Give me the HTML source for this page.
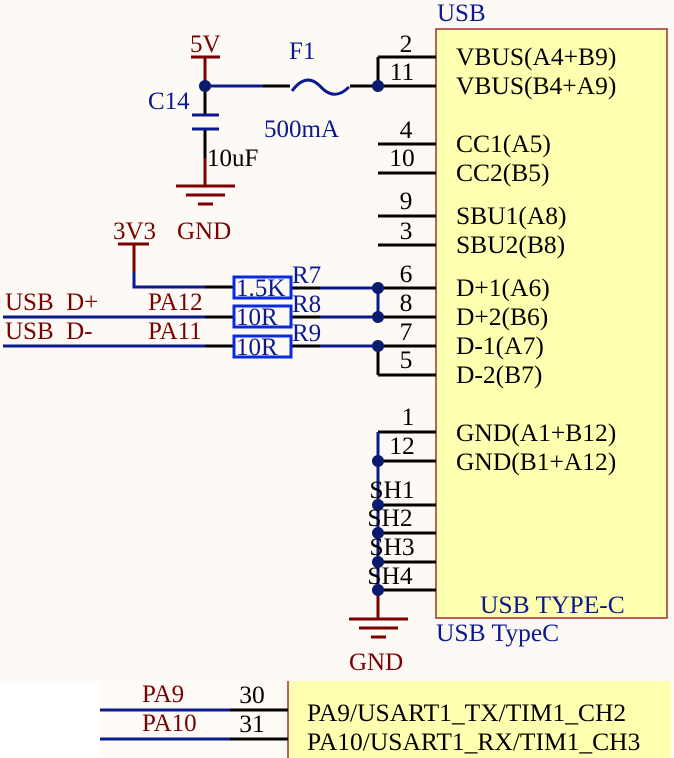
<!DOCTYPE html>
<html><head><meta charset="utf-8"><style>
body{margin:0;background:#fdfaf5}
svg{display:block}
text{font-family:"Liberation Serif",serif;font-size:25.5px}
.k{fill:#000}.b{fill:#0a1a8c}.r{fill:#7a0000}
.s{font-size:25px}
</style></head><body>
<svg width="674" height="758" viewBox="0 0 674 758">
<rect width="674" height="758" fill="#fdfaf5"/>
<rect x="0" y="681" width="100" height="77" fill="#fff"/>
<rect x="100" y="681" width="574" height="77" fill="#fefbf6"/>
<rect x="288" y="681" width="383" height="77" fill="#ffffb0"/>
<line x1="288" y1="681" x2="288" y2="758" stroke="#a03030" stroke-width="1.5"/>
<rect x="436" y="29" width="231" height="589" fill="#ffffb0" stroke="#a03030" stroke-width="1.5"/>
<g stroke="#000" stroke-width="3">
<line x1="378" y1="57" x2="436" y2="57"/><line x1="378" y1="86" x2="436" y2="86"/>
<line x1="378" y1="144" x2="436" y2="144"/><line x1="378" y1="173" x2="436" y2="173"/>
<line x1="378" y1="216" x2="436" y2="216"/><line x1="378" y1="245" x2="436" y2="245"/>
<line x1="378" y1="288" x2="436" y2="288"/><line x1="378" y1="317" x2="436" y2="317"/>
<line x1="378" y1="346" x2="436" y2="346"/><line x1="378" y1="375" x2="436" y2="375"/>
<line x1="378" y1="432" x2="436" y2="432"/><line x1="378" y1="461" x2="436" y2="461"/>
<line x1="378" y1="505" x2="436" y2="505"/><line x1="378" y1="533" x2="436" y2="533"/>
<line x1="378" y1="562" x2="436" y2="562"/><line x1="378" y1="590" x2="436" y2="590"/>
<line x1="378" y1="57" x2="378" y2="86"/>
<line x1="378" y1="346" x2="378" y2="375"/>
<line x1="378" y1="432" x2="378" y2="461"/>
<line x1="263" y1="86" x2="290" y2="86"/><line x1="350" y1="86" x2="378" y2="86"/>
<line x1="205" y1="86" x2="205" y2="114"/><line x1="205" y1="130" x2="205" y2="158"/>
<line x1="205" y1="287" x2="235" y2="287" /><line x1="290" y1="288" x2="320" y2="288"/>
<line x1="205" y1="317" x2="235" y2="317"/><line x1="290" y1="317" x2="320" y2="317"/>
<line x1="205" y1="346" x2="235" y2="346"/><line x1="290" y1="346" x2="320" y2="346"/>
<line x1="230" y1="710" x2="288" y2="710"/><line x1="230" y1="739" x2="288" y2="739"/>
</g>
<g stroke="#0a1a8c" stroke-width="3" fill="none">
<line x1="205" y1="86" x2="263" y2="86"/>
<path d="M292 91 Q306 72 320 86 Q334 102 349 87"/>
<line x1="378" y1="288" x2="378" y2="317"/>
<line x1="320" y1="288" x2="378" y2="288"/><line x1="320" y1="317" x2="378" y2="317"/><line x1="320" y1="346" x2="378" y2="346"/>
<path d="M134 272 V287 H205"/>
<line x1="3" y1="317" x2="205" y2="317"/><line x1="3" y1="346" x2="205" y2="346"/>
<line x1="378" y1="432" x2="378" y2="590"/>
<line x1="100" y1="710" x2="230" y2="710"/><line x1="100" y1="739" x2="230" y2="739"/>
<line x1="192" y1="115" x2="219" y2="115"/><line x1="192" y1="129" x2="219" y2="129"/>
</g>
<g stroke="#0a2ae0" stroke-width="3" fill="none">
<rect x="234" y="277" width="57" height="21"/>
<rect x="234" y="306" width="57" height="21"/>
<rect x="234" y="336" width="57" height="21"/>
</g>
<g stroke="#7a0000" stroke-width="3" fill="none">
<line x1="191" y1="57" x2="220" y2="57"/><line x1="205" y1="57" x2="205" y2="86"/>
<line x1="205" y1="158" x2="205" y2="186"/>
<line x1="176" y1="186" x2="235" y2="186"/><line x1="186" y1="195" x2="225" y2="195"/><line x1="198" y1="204" x2="213" y2="204"/>
<line x1="118" y1="244" x2="149" y2="244"/><line x1="134" y1="244" x2="134" y2="272"/>
<line x1="378" y1="590" x2="378" y2="619"/>
<line x1="349" y1="619" x2="408" y2="619"/><line x1="359" y1="628" x2="398" y2="628"/><line x1="371" y1="637" x2="386" y2="637"/>
</g>
<g fill="#0a1a6c">
<circle cx="205" cy="86" r="6"/><circle cx="378" cy="86" r="6"/>
<circle cx="378" cy="288" r="6"/><circle cx="378" cy="317" r="6"/><circle cx="378" cy="346" r="6"/>
<circle cx="378" cy="461" r="6"/><circle cx="378" cy="505" r="6"/><circle cx="378" cy="533" r="6"/><circle cx="378" cy="562" r="6"/><circle cx="378" cy="590" r="6"/>
</g>
<g class="k s" text-anchor="middle">
<text x="406" y="52">2</text><text x="402" y="80">11</text>
<text x="406" y="138">4</text><text x="402" y="166">10</text>
<text x="406" y="209">9</text><text x="406" y="239">3</text>
<text x="406" y="282">6</text><text x="406" y="311">8</text>
<text x="406" y="340">7</text><text x="406" y="368">5</text>
<text x="408" y="425">1</text><text x="402" y="454">12</text>
<text x="392" y="498">SH1</text><text x="390" y="526">SH2</text><text x="392" y="555">SH3</text><text x="390" y="584">SH4</text>
<text x="252" y="703">30</text><text x="252" y="732">31</text>
</g>
<g class="k">
<text x="456" y="65">VBUS(A4+B9)</text><text x="456" y="94">VBUS(B4+A9)</text>
<text x="456" y="152">CC1(A5)</text><text x="456" y="181">CC2(B5)</text>
<text x="456" y="224">SBU1(A8)</text><text x="456" y="253">SBU2(B8)</text>
<text x="456" y="296">D+1(A6)</text><text x="456" y="325">D+2(B6)</text>
<text x="456" y="354">D-1(A7)</text><text x="456" y="383">D-2(B7)</text>
<text x="456" y="441">GND(A1+B12)</text><text x="456" y="470">GND(B1+A12)</text>
<text x="307" y="721">PA9/USART1_TX/TIM1_CH2</text><text x="307" y="750">PA10/USART1_RX/TIM1_CH3</text>
<text x="207" y="166" class="s">10uF</text>
</g>
<g class="b">
<text x="437" y="21" class="s">USB</text><text x="289" y="59" class="s">F1</text><text x="148" y="109" class="s">C14</text>
<text x="264" y="137" class="s">500mA</text>
<text x="236" y="296" class="s">1.5K</text><text x="236" y="325" class="s">10R</text><text x="236" y="355" class="s">10R</text>
<text x="292" y="283" class="s">R7</text><text x="292" y="312" class="s">R8</text><text x="292" y="341" class="s">R9</text>
<text x="480" y="613">USB TYPE-C</text><text x="436" y="641">USB TypeC</text>
</g>
<g class="r">
<text x="190" y="52" class="s">5V</text><text x="177" y="239" class="s">GND</text><text x="113" y="239" class="s">3V3</text>
<text x="5" y="310" class="s">USB&#160;&#160;D+</text><text x="148" y="310" class="s">PA12</text>
<text x="5" y="339" class="s">USB&#160;&#160;D-</text><text x="148" y="339" class="s">PA11</text>
<text x="349" y="670" class="s">GND</text>
<text x="142" y="702" class="s">PA9</text><text x="142" y="731" class="s">PA10</text>
</g>
</svg>
</body></html>
